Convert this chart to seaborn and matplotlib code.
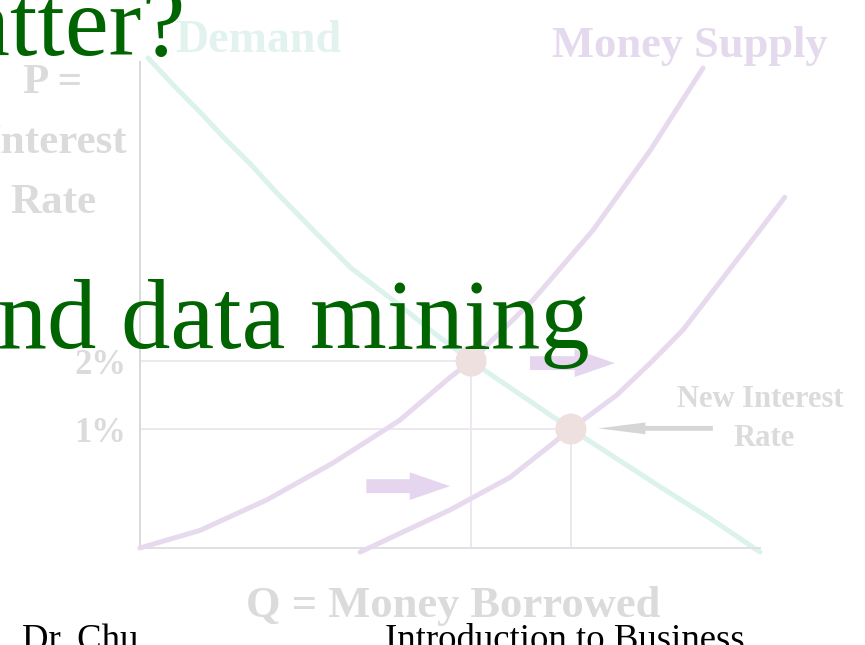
import matplotlib
matplotlib.use("Agg")
import matplotlib.pyplot as plt
import seaborn as sns

# ---- data (Q = money borrowed in chart units, interest rate in %) ----
demand_q = [0.13, 0.56, 0.97, 1.37, 1.77, 2.18, 2.79, 3.39, 4.19, 4.76, 5.34, 6.95, 8.39, 9.19, 10.0]
demand_r = [6.46, 6.04, 5.66, 5.27, 4.91, 4.50, 3.93, 3.38, 2.82, 2.40, 2.00, 1.00, 0.15, -0.31, -0.81]

supply1_q = [0.00, 0.97, 2.05, 3.11, 4.19, 5.00, 5.34, 6.34, 7.31, 8.23, 9.08]
supply1_r = [-0.75, -0.49, -0.04, 0.50, 1.13, 1.76, 2.00, 2.90, 3.93, 5.10, 6.31]

supply2_q = [3.55, 5.00, 5.97, 6.95, 7.69, 8.23, 8.76, 10.0, 10.4]
supply2_r = [-0.81, -0.19, 0.29, 1.00, 1.50, 1.97, 2.46, 3.93, 4.41]

eq_q = [5.34, 6.95]
eq_r = [2.0, 1.0]

ytick_vals = [1, 2]
ytick_labels = ["1%", "2%"]

# shift arrows (start q, end q, rate)
shift_arrows = [(3.65, 5.0, 0.16), (6.29, 7.66, 1.97)]
new_rate_arrow = (9.24, 7.39, 1.01)

sns.set_theme(style="white")
plt.rcParams['font.family'] = ['Liberation Serif', 'DejaVu Serif']

fig = plt.figure(figsize=(8.65, 6.45), dpi=100)
fig.patch.set_facecolor("white")
ax = fig.add_axes([140/865, 1-548/645, 620/865, 486/645])
ax.set_facecolor("none")
ax.set_xlim(0, 10)
ax.set_ylim(-0.75, 6.40)

GRAY_TXT = "#dbdbdb"
TEAL = "#dcf2ed"
LAV = "#e7daef"
GRID = "#ece6ef"

# guide lines
ax.hlines(eq_r, 0, eq_q, color=GRID, lw=1.3, zorder=1)
ax.vlines(eq_q, -0.75, eq_r, color=GRID, lw=1.3, zorder=1)

sns.lineplot(x=supply1_q, y=supply1_r, ax=ax, color=LAV, lw=3.6, sort=False,
             clip_on=False, zorder=3, solid_capstyle='round', solid_joinstyle='round')
sns.lineplot(x=supply2_q, y=supply2_r, ax=ax, color=LAV, lw=3.6, sort=False,
             clip_on=False, zorder=3, solid_capstyle='round', solid_joinstyle='round')
sns.lineplot(x=demand_q, y=demand_r, ax=ax, color=TEAL, lw=3.6, sort=False,
             clip_on=False, zorder=2, solid_capstyle='round', solid_joinstyle='round')
sns.scatterplot(x=eq_q, y=eq_r, ax=ax, s=500, color="#efe0e0", edgecolor="none",
                zorder=4, clip_on=False)

for q0, q1, r in shift_arrows:
    ax.annotate("", xy=(q1, r), xytext=(q0, r),
                arrowprops=dict(arrowstyle="simple,head_length=2.9,head_width=2.0,tail_width=1.0",
                                color="#e6d5ef", lw=0, shrinkA=0, shrinkB=0,
                                mutation_scale=10), zorder=3)
q0, q1, r = new_rate_arrow
ax.annotate("", xy=(q1, r), xytext=(q0, r),
            arrowprops=dict(arrowstyle="simple,head_length=3.4,head_width=0.85,tail_width=0.35",
                            color="#d6d6d6", lw=0, shrinkA=0, shrinkB=0,
                            mutation_scale=10), zorder=3)

# axes styling
for s in ["top", "right"]:
    ax.spines[s].set_visible(False)
ax.spines["left"].set_color("#d9d9d9")
ax.spines["left"].set_linewidth(1.4)
ax.spines["bottom"].set_color("#e3dfe6")
ax.spines["bottom"].set_linewidth(1.4)
ax.set_xticks([])
ax.set_yticks(ytick_vals)
ax.set_yticklabels(ytick_labels, fontsize=25, fontweight="bold", color=GRAY_TXT,
                   family="Liberation Serif")
ax.tick_params(axis="y", length=0, pad=10)

def ft(x, y, s, **kw):
    fig.text(x/865, 1-y/645, s, **kw)

bold = dict(fontweight="bold", family="Liberation Serif", va="baseline")
ft(453, 617, "Q = Money Borrowed", fontsize=32, color=GRAY_TXT, ha="center", **bold)
ft(53, 93, "P =", fontsize=31, color=GRAY_TXT, ha="center", **bold)
ft(56, 153, "Interest", fontsize=31, color=GRAY_TXT, ha="center", **bold)
ft(53, 213, "Rate", fontsize=31, color=GRAY_TXT, ha="center", **bold)
ft(690, 57, "Money Supply", fontsize=32, color="#e4d9ed", ha="center", **bold)
ft(258, 52, "Demand", fontsize=33, color="#e2f3ef", ha="center", **bold)
ft(760, 407, "New Interest", fontsize=22, color=GRAY_TXT, ha="center", **bold)
ft(764, 446, "Rate", fontsize=22, color=GRAY_TXT, ha="center", **bold)

# slide text
green = dict(family="Liberation Serif", color="#006400", va="baseline", fontsize=71, zorder=10)
ft(185, 55, "Why does it matter?", ha="right", **green)
ft(590, 348, "and data mining", ha="right", **green)
ft(22, 650, "Dr. Chu", ha="left", family="Liberation Serif", color="black",
   fontsize=26.5, va="baseline")
ft(385, 650, "Introduction to Business", ha="left", family="Liberation Serif",
   color="black", fontsize=26.5, va="baseline")

fig.savefig("out.png", dpi=100, facecolor="white")
